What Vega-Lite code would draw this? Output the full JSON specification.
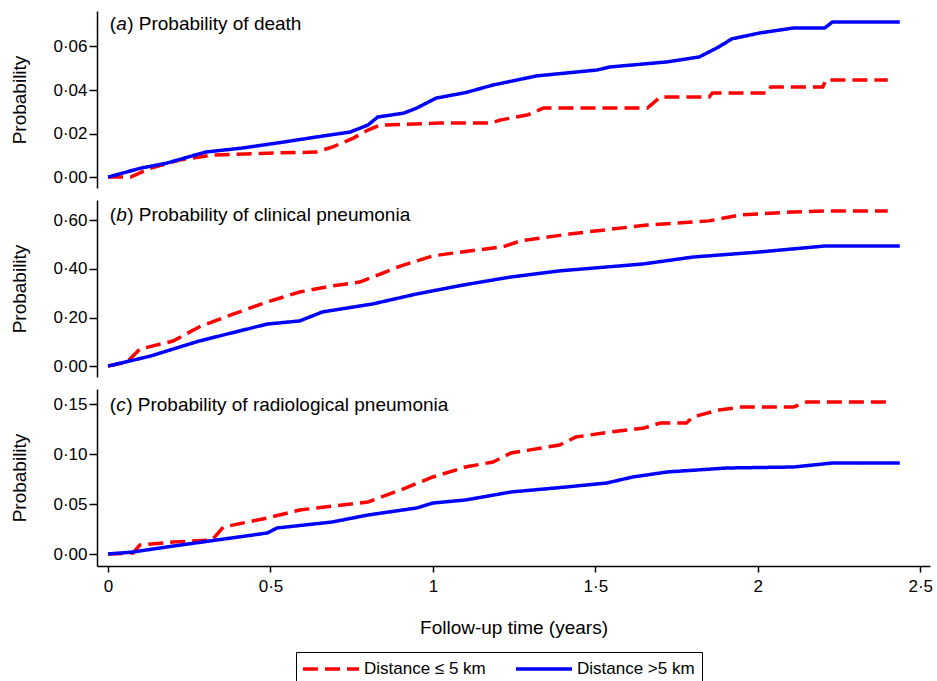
{
  "$schema": "https://vega.github.io/schema/vega-lite/v6.json",
  "padding": {"left": 10, "top": 11, "right": 5, "bottom": 0},
  "background": "white",
  "spacing": 12,
  "datasets": {
    "curves": [
      {"p":"a","s":"Distance ≤ 5 km","t":0,"v":0},
      {"p":"a","s":"Distance ≤ 5 km","t":0.07,"v":0},
      {"p":"a","s":"Distance ≤ 5 km","t":0.13,"v":0.0041},
      {"p":"a","s":"Distance ≤ 5 km","t":0.22,"v":0.0078},
      {"p":"a","s":"Distance ≤ 5 km","t":0.32,"v":0.0101},
      {"p":"a","s":"Distance ≤ 5 km","t":0.49,"v":0.011},
      {"p":"a","s":"Distance ≤ 5 km","t":0.64,"v":0.0115},
      {"p":"a","s":"Distance ≤ 5 km","t":0.69,"v":0.0138},
      {"p":"a","s":"Distance ≤ 5 km","t":0.755,"v":0.0179},
      {"p":"a","s":"Distance ≤ 5 km","t":0.8,"v":0.0216},
      {"p":"a","s":"Distance ≤ 5 km","t":0.837,"v":0.0239},
      {"p":"a","s":"Distance ≤ 5 km","t":1.02,"v":0.0248},
      {"p":"a","s":"Distance ≤ 5 km","t":1.18,"v":0.0248},
      {"p":"a","s":"Distance ≤ 5 km","t":1.206,"v":0.0262},
      {"p":"a","s":"Distance ≤ 5 km","t":1.29,"v":0.0285},
      {"p":"a","s":"Distance ≤ 5 km","t":1.34,"v":0.0317},
      {"p":"a","s":"Distance ≤ 5 km","t":1.66,"v":0.0317},
      {"p":"a","s":"Distance ≤ 5 km","t":1.7,"v":0.0368},
      {"p":"a","s":"Distance ≤ 5 km","t":1.85,"v":0.0368},
      {"p":"a","s":"Distance ≤ 5 km","t":1.86,"v":0.0386},
      {"p":"a","s":"Distance ≤ 5 km","t":2.03,"v":0.0386},
      {"p":"a","s":"Distance ≤ 5 km","t":2.04,"v":0.0414},
      {"p":"a","s":"Distance ≤ 5 km","t":2.2,"v":0.0414},
      {"p":"a","s":"Distance ≤ 5 km","t":2.21,"v":0.0446},
      {"p":"a","s":"Distance ≤ 5 km","t":2.4,"v":0.0446},
      {"p":"a","s":"Distance >5 km","t":0,"v":0},
      {"p":"a","s":"Distance >5 km","t":0.1,"v":0.0041},
      {"p":"a","s":"Distance >5 km","t":0.18,"v":0.0064},
      {"p":"a","s":"Distance >5 km","t":0.3,"v":0.0115},
      {"p":"a","s":"Distance >5 km","t":0.41,"v":0.0133},
      {"p":"a","s":"Distance >5 km","t":0.54,"v":0.0161},
      {"p":"a","s":"Distance >5 km","t":0.64,"v":0.0184},
      {"p":"a","s":"Distance >5 km","t":0.745,"v":0.0207},
      {"p":"a","s":"Distance >5 km","t":0.8,"v":0.0239},
      {"p":"a","s":"Distance >5 km","t":0.83,"v":0.0276},
      {"p":"a","s":"Distance >5 km","t":0.91,"v":0.0294},
      {"p":"a","s":"Distance >5 km","t":0.95,"v":0.0317},
      {"p":"a","s":"Distance >5 km","t":1.01,"v":0.0363},
      {"p":"a","s":"Distance >5 km","t":1.1,"v":0.0388},
      {"p":"a","s":"Distance >5 km","t":1.185,"v":0.0423},
      {"p":"a","s":"Distance >5 km","t":1.32,"v":0.0465},
      {"p":"a","s":"Distance >5 km","t":1.505,"v":0.0492},
      {"p":"a","s":"Distance >5 km","t":1.545,"v":0.0506},
      {"p":"a","s":"Distance >5 km","t":1.72,"v":0.0529},
      {"p":"a","s":"Distance >5 km","t":1.82,"v":0.0552},
      {"p":"a","s":"Distance >5 km","t":1.88,"v":0.0598},
      {"p":"a","s":"Distance >5 km","t":1.92,"v":0.0635},
      {"p":"a","s":"Distance >5 km","t":2.006,"v":0.0662},
      {"p":"a","s":"Distance >5 km","t":2.11,"v":0.0685},
      {"p":"a","s":"Distance >5 km","t":2.206,"v":0.0685},
      {"p":"a","s":"Distance >5 km","t":2.23,"v":0.0713},
      {"p":"a","s":"Distance >5 km","t":2.437,"v":0.0713},
      {"p":"b","s":"Distance ≤ 5 km","t":0,"v":0},
      {"p":"b","s":"Distance ≤ 5 km","t":0.058,"v":0.016},
      {"p":"b","s":"Distance ≤ 5 km","t":0.098,"v":0.07},
      {"p":"b","s":"Distance ≤ 5 km","t":0.2,"v":0.103},
      {"p":"b","s":"Distance ≤ 5 km","t":0.28,"v":0.161},
      {"p":"b","s":"Distance ≤ 5 km","t":0.385,"v":0.214},
      {"p":"b","s":"Distance ≤ 5 km","t":0.49,"v":0.264},
      {"p":"b","s":"Distance ≤ 5 km","t":0.59,"v":0.305},
      {"p":"b","s":"Distance ≤ 5 km","t":0.69,"v":0.33},
      {"p":"b","s":"Distance ≤ 5 km","t":0.775,"v":0.346},
      {"p":"b","s":"Distance ≤ 5 km","t":0.9,"v":0.412},
      {"p":"b","s":"Distance ≤ 5 km","t":1.0,"v":0.454},
      {"p":"b","s":"Distance ≤ 5 km","t":1.1,"v":0.472},
      {"p":"b","s":"Distance ≤ 5 km","t":1.215,"v":0.491},
      {"p":"b","s":"Distance ≤ 5 km","t":1.27,"v":0.516},
      {"p":"b","s":"Distance ≤ 5 km","t":1.42,"v":0.544},
      {"p":"b","s":"Distance ≤ 5 km","t":1.66,"v":0.581},
      {"p":"b","s":"Distance ≤ 5 km","t":1.85,"v":0.598},
      {"p":"b","s":"Distance ≤ 5 km","t":1.95,"v":0.623},
      {"p":"b","s":"Distance ≤ 5 km","t":2.11,"v":0.635},
      {"p":"b","s":"Distance ≤ 5 km","t":2.21,"v":0.639},
      {"p":"b","s":"Distance ≤ 5 km","t":2.4,"v":0.639},
      {"p":"b","s":"Distance >5 km","t":0,"v":0},
      {"p":"b","s":"Distance >5 km","t":0.13,"v":0.041},
      {"p":"b","s":"Distance >5 km","t":0.28,"v":0.103},
      {"p":"b","s":"Distance >5 km","t":0.49,"v":0.173},
      {"p":"b","s":"Distance >5 km","t":0.59,"v":0.186},
      {"p":"b","s":"Distance >5 km","t":0.66,"v":0.223},
      {"p":"b","s":"Distance >5 km","t":0.815,"v":0.256},
      {"p":"b","s":"Distance >5 km","t":0.95,"v":0.297},
      {"p":"b","s":"Distance >5 km","t":1.09,"v":0.333},
      {"p":"b","s":"Distance >5 km","t":1.24,"v":0.367},
      {"p":"b","s":"Distance >5 km","t":1.39,"v":0.392},
      {"p":"b","s":"Distance >5 km","t":1.65,"v":0.421},
      {"p":"b","s":"Distance >5 km","t":1.8,"v":0.449},
      {"p":"b","s":"Distance >5 km","t":2.006,"v":0.47},
      {"p":"b","s":"Distance >5 km","t":2.21,"v":0.495},
      {"p":"b","s":"Distance >5 km","t":2.437,"v":0.495},
      {"p":"c","s":"Distance ≤ 5 km","t":0,"v":0},
      {"p":"c","s":"Distance ≤ 5 km","t":0.077,"v":0.001},
      {"p":"c","s":"Distance ≤ 5 km","t":0.098,"v":0.009},
      {"p":"c","s":"Distance ≤ 5 km","t":0.2,"v":0.012},
      {"p":"c","s":"Distance ≤ 5 km","t":0.32,"v":0.014},
      {"p":"c","s":"Distance ≤ 5 km","t":0.355,"v":0.027},
      {"p":"c","s":"Distance ≤ 5 km","t":0.49,"v":0.036},
      {"p":"c","s":"Distance ≤ 5 km","t":0.59,"v":0.044},
      {"p":"c","s":"Distance ≤ 5 km","t":0.8,"v":0.052},
      {"p":"c","s":"Distance ≤ 5 km","t":0.9,"v":0.064},
      {"p":"c","s":"Distance ≤ 5 km","t":1.0,"v":0.077},
      {"p":"c","s":"Distance ≤ 5 km","t":1.1,"v":0.087},
      {"p":"c","s":"Distance ≤ 5 km","t":1.185,"v":0.092},
      {"p":"c","s":"Distance ≤ 5 km","t":1.24,"v":0.101},
      {"p":"c","s":"Distance ≤ 5 km","t":1.39,"v":0.109},
      {"p":"c","s":"Distance ≤ 5 km","t":1.44,"v":0.117},
      {"p":"c","s":"Distance ≤ 5 km","t":1.545,"v":0.122},
      {"p":"c","s":"Distance ≤ 5 km","t":1.65,"v":0.126},
      {"p":"c","s":"Distance ≤ 5 km","t":1.7,"v":0.131},
      {"p":"c","s":"Distance ≤ 5 km","t":1.78,"v":0.131},
      {"p":"c","s":"Distance ≤ 5 km","t":1.8,"v":0.137},
      {"p":"c","s":"Distance ≤ 5 km","t":1.88,"v":0.144},
      {"p":"c","s":"Distance ≤ 5 km","t":1.95,"v":0.147},
      {"p":"c","s":"Distance ≤ 5 km","t":2.11,"v":0.147},
      {"p":"c","s":"Distance ≤ 5 km","t":2.15,"v":0.152},
      {"p":"c","s":"Distance ≤ 5 km","t":2.4,"v":0.152},
      {"p":"c","s":"Distance >5 km","t":0,"v":0},
      {"p":"c","s":"Distance >5 km","t":0.077,"v":0.002},
      {"p":"c","s":"Distance >5 km","t":0.18,"v":0.007},
      {"p":"c","s":"Distance >5 km","t":0.335,"v":0.014},
      {"p":"c","s":"Distance >5 km","t":0.49,"v":0.021},
      {"p":"c","s":"Distance >5 km","t":0.52,"v":0.026},
      {"p":"c","s":"Distance >5 km","t":0.69,"v":0.032},
      {"p":"c","s":"Distance >5 km","t":0.8,"v":0.039},
      {"p":"c","s":"Distance >5 km","t":0.95,"v":0.046},
      {"p":"c","s":"Distance >5 km","t":1.0,"v":0.051},
      {"p":"c","s":"Distance >5 km","t":1.1,"v":0.054},
      {"p":"c","s":"Distance >5 km","t":1.24,"v":0.062},
      {"p":"c","s":"Distance >5 km","t":1.41,"v":0.067},
      {"p":"c","s":"Distance >5 km","t":1.535,"v":0.071},
      {"p":"c","s":"Distance >5 km","t":1.615,"v":0.077},
      {"p":"c","s":"Distance >5 km","t":1.72,"v":0.082},
      {"p":"c","s":"Distance >5 km","t":1.905,"v":0.086},
      {"p":"c","s":"Distance >5 km","t":2.11,"v":0.087},
      {"p":"c","s":"Distance >5 km","t":2.23,"v":0.091},
      {"p":"c","s":"Distance >5 km","t":2.437,"v":0.091}
    ],
    "labels": [
      {"p":"a","t":0.005,"v":0.0674,"o":"(","l":"a","r":") Probability of death"},
      {"p":"b","t":0.005,"v":0.599,"o":"(","l":"b","r":") Probability of clinical pneumonia"},
      {"p":"c","t":0.005,"v":0.143,"o":"(","l":"c","r":") Probability of radiological pneumonia"}
    ]
  },
  "resolve": {"scale": {"color": "shared", "strokeDash": "shared"}, "legend": {"color": "shared", "strokeDash": "shared"}},
  "vconcat": [
    {
      "width": 833, "height": 177,
      "encoding": {
        "x": {"field": "t", "type": "quantitative", "scale": {"domain": [-0.034, 2.53], "nice": false, "zero": false}, "axis": null},
        "y": {"field": "v", "type": "quantitative", "scale": {"domain": [-0.005, 0.0763], "nice": false, "zero": false},
              "axis": {"title": "Probability", "values": [0, 0.02, 0.04, 0.06], "labelExpr": "replace(format(datum.value, '.2f'), '.', '·')"}}
      },
      "layer": [
        {"data": {"name": "curves"}, "transform": [{"filter": "datum.p === 'a' && datum.s === 'Distance ≤ 5 km'"}],
         "mark": {"type": "line", "strokeWidth": 3.5},
         "encoding": {
           "color": {"field": "s", "type": "nominal", "scale": {"domain": ["Distance ≤ 5 km", "Distance >5 km"], "range": ["#ff0000", "#0000ff"]}, "legend": {"title": null, "orient": "none", "legendX": 199, "legendY": 641, "direction": "horizontal"}},
           "strokeDash": {"field": "s", "type": "nominal", "scale": {"domain": ["Distance ≤ 5 km", "Distance >5 km"], "range": [[15, 7], [1, 0]]}, "legend": {"title": null, "orient": "none", "legendX": 199, "legendY": 641, "direction": "horizontal"}}
         }},
        {"data": {"name": "curves"}, "transform": [{"filter": "datum.p === 'a' && datum.s === 'Distance >5 km'"}],
         "mark": {"type": "line", "strokeWidth": 3.5},
         "encoding": {
           "color": {"field": "s", "type": "nominal", "scale": {"domain": ["Distance ≤ 5 km", "Distance >5 km"], "range": ["#ff0000", "#0000ff"]}, "legend": {"title": null, "orient": "none", "legendX": 199, "legendY": 641, "direction": "horizontal"}},
           "strokeDash": {"field": "s", "type": "nominal", "scale": {"domain": ["Distance ≤ 5 km", "Distance >5 km"], "range": [[15, 7], [1, 0]]}, "legend": {"title": null, "orient": "none", "legendX": 199, "legendY": 641, "direction": "horizontal"}}
         }},
        {"data": {"name": "labels"}, "transform": [{"filter": "datum.p === 'a'"}],
         "mark": {"type": "text", "align": "left", "baseline": "alphabetic", "fontSize": 19, "color": "black"},
         "encoding": {"text": {"field": "o"}}},
        {"data": {"name": "labels"}, "transform": [{"filter": "datum.p === 'a'"}],
         "mark": {"type": "text", "align": "left", "baseline": "alphabetic", "fontSize": 19, "fontStyle": "italic", "color": "black", "dx": 6.5},
         "encoding": {"text": {"field": "l"}}},
        {"data": {"name": "labels"}, "transform": [{"filter": "datum.p === 'a'"}],
         "mark": {"type": "text", "align": "left", "baseline": "alphabetic", "fontSize": 19, "color": "black", "dx": 17.5},
         "encoding": {"text": {"field": "r"}}}
      ]
    },
    {
      "width": 833, "height": 177,
      "encoding": {
        "x": {"field": "t", "type": "quantitative", "scale": {"domain": [-0.034, 2.53], "nice": false, "zero": false}, "axis": null},
        "y": {"field": "v", "type": "quantitative", "scale": {"domain": [-0.045, 0.684], "nice": false, "zero": false},
              "axis": {"title": "Probability", "values": [0, 0.2, 0.4, 0.6], "labelExpr": "replace(format(datum.value, '.2f'), '.', '·')"}}
      },
      "layer": [
        {"data": {"name": "curves"}, "transform": [{"filter": "datum.p === 'b' && datum.s === 'Distance ≤ 5 km'"}],
         "mark": {"type": "line", "strokeWidth": 3.5},
         "encoding": {
           "color": {"field": "s", "type": "nominal", "scale": {"domain": ["Distance ≤ 5 km", "Distance >5 km"], "range": ["#ff0000", "#0000ff"]}, "legend": {"title": null, "orient": "none", "legendX": 199, "legendY": 641, "direction": "horizontal"}},
           "strokeDash": {"field": "s", "type": "nominal", "scale": {"domain": ["Distance ≤ 5 km", "Distance >5 km"], "range": [[15, 7], [1, 0]]}, "legend": {"title": null, "orient": "none", "legendX": 199, "legendY": 641, "direction": "horizontal"}}
         }},
        {"data": {"name": "curves"}, "transform": [{"filter": "datum.p === 'b' && datum.s === 'Distance >5 km'"}],
         "mark": {"type": "line", "strokeWidth": 3.5},
         "encoding": {
           "color": {"field": "s", "type": "nominal", "scale": {"domain": ["Distance ≤ 5 km", "Distance >5 km"], "range": ["#ff0000", "#0000ff"]}, "legend": {"title": null, "orient": "none", "legendX": 199, "legendY": 641, "direction": "horizontal"}},
           "strokeDash": {"field": "s", "type": "nominal", "scale": {"domain": ["Distance ≤ 5 km", "Distance >5 km"], "range": [[15, 7], [1, 0]]}, "legend": {"title": null, "orient": "none", "legendX": 199, "legendY": 641, "direction": "horizontal"}}
         }},
        {"data": {"name": "labels"}, "transform": [{"filter": "datum.p === 'b'"}],
         "mark": {"type": "text", "align": "left", "baseline": "alphabetic", "fontSize": 19, "color": "black"},
         "encoding": {"text": {"field": "o"}}},
        {"data": {"name": "labels"}, "transform": [{"filter": "datum.p === 'b'"}],
         "mark": {"type": "text", "align": "left", "baseline": "alphabetic", "fontSize": 19, "fontStyle": "italic", "color": "black", "dx": 6.5},
         "encoding": {"text": {"field": "l"}}},
        {"data": {"name": "labels"}, "transform": [{"filter": "datum.p === 'b'"}],
         "mark": {"type": "text", "align": "left", "baseline": "alphabetic", "fontSize": 19, "color": "black", "dx": 17.5},
         "encoding": {"text": {"field": "r"}}}
      ]
    },
    {
      "width": 833, "height": 177,
      "encoding": {
        "x": {"field": "t", "type": "quantitative", "scale": {"domain": [-0.034, 2.53], "nice": false, "zero": false},
              "axis": {"title": "Follow-up time (years)", "values": [0, 0.5, 1, 1.5, 2, 2.5], "labelExpr": "replace(format(datum.value, '.1~f'), '.', '·')", "tickSize": 6, "labelPadding": 6, "titlePadding": 24}},
        "y": {"field": "v", "type": "quantitative", "scale": {"domain": [-0.012, 0.165], "nice": false, "zero": false},
              "axis": {"title": "Probability", "values": [0, 0.05, 0.1, 0.15], "labelExpr": "replace(format(datum.value, '.2f'), '.', '·')"}}
      },
      "layer": [
        {"data": {"name": "curves"}, "transform": [{"filter": "datum.p === 'c' && datum.s === 'Distance ≤ 5 km'"}],
         "mark": {"type": "line", "strokeWidth": 3.5},
         "encoding": {
           "color": {"field": "s", "type": "nominal", "scale": {"domain": ["Distance ≤ 5 km", "Distance >5 km"], "range": ["#ff0000", "#0000ff"]}, "legend": {"title": null, "orient": "none", "legendX": 199, "legendY": 641, "direction": "horizontal"}},
           "strokeDash": {"field": "s", "type": "nominal", "scale": {"domain": ["Distance ≤ 5 km", "Distance >5 km"], "range": [[15, 7], [1, 0]]}, "legend": {"title": null, "orient": "none", "legendX": 199, "legendY": 641, "direction": "horizontal"}}
         }},
        {"data": {"name": "curves"}, "transform": [{"filter": "datum.p === 'c' && datum.s === 'Distance >5 km'"}],
         "mark": {"type": "line", "strokeWidth": 3.5},
         "encoding": {
           "color": {"field": "s", "type": "nominal", "scale": {"domain": ["Distance ≤ 5 km", "Distance >5 km"], "range": ["#ff0000", "#0000ff"]}, "legend": {"title": null, "orient": "none", "legendX": 199, "legendY": 641, "direction": "horizontal"}},
           "strokeDash": {"field": "s", "type": "nominal", "scale": {"domain": ["Distance ≤ 5 km", "Distance >5 km"], "range": [[15, 7], [1, 0]]}, "legend": {"title": null, "orient": "none", "legendX": 199, "legendY": 641, "direction": "horizontal"}}
         }},
        {"data": {"name": "labels"}, "transform": [{"filter": "datum.p === 'c'"}],
         "mark": {"type": "text", "align": "left", "baseline": "alphabetic", "fontSize": 19, "color": "black"},
         "encoding": {"text": {"field": "o"}}},
        {"data": {"name": "labels"}, "transform": [{"filter": "datum.p === 'c'"}],
         "mark": {"type": "text", "align": "left", "baseline": "alphabetic", "fontSize": 19, "fontStyle": "italic", "color": "black", "dx": 6.5},
         "encoding": {"text": {"field": "l"}}},
        {"data": {"name": "labels"}, "transform": [{"filter": "datum.p === 'c'"}],
         "mark": {"type": "text", "align": "left", "baseline": "alphabetic", "fontSize": 19, "color": "black", "dx": 16.5},
         "encoding": {"text": {"field": "r"}}}
      ]
    }
  ],
  "config": {
    "font": "Liberation Sans",
    "view": {"stroke": null},
    "axis": {
      "grid": false,
      "domainColor": "black", "domainWidth": 1.5,
      "tickColor": "black", "tickWidth": 1.5,
      "labelColor": "black", "labelFontSize": 17, "labelFont": "Liberation Sans", "labelFlush": false,
      "titleColor": "black", "titleFontSize": 19, "titleFont": "Liberation Sans", "titleFontWeight": "normal"
    },
    "axisY": {"tickSize": 8, "labelPadding": 2, "titlePadding": 23},
    "legend": {
      "strokeColor": "black", "padding": 7,
      "symbolType": "M-3.5,0H3.5", "symbolSize": 256, "symbolStrokeWidth": 3.5, "symbolOffset": 18,
      "labelFontSize": 17, "labelColor": "black", "labelFont": "Liberation Sans",
      "columnPadding": 23, "labelOffset": 23
    }
  }
}
